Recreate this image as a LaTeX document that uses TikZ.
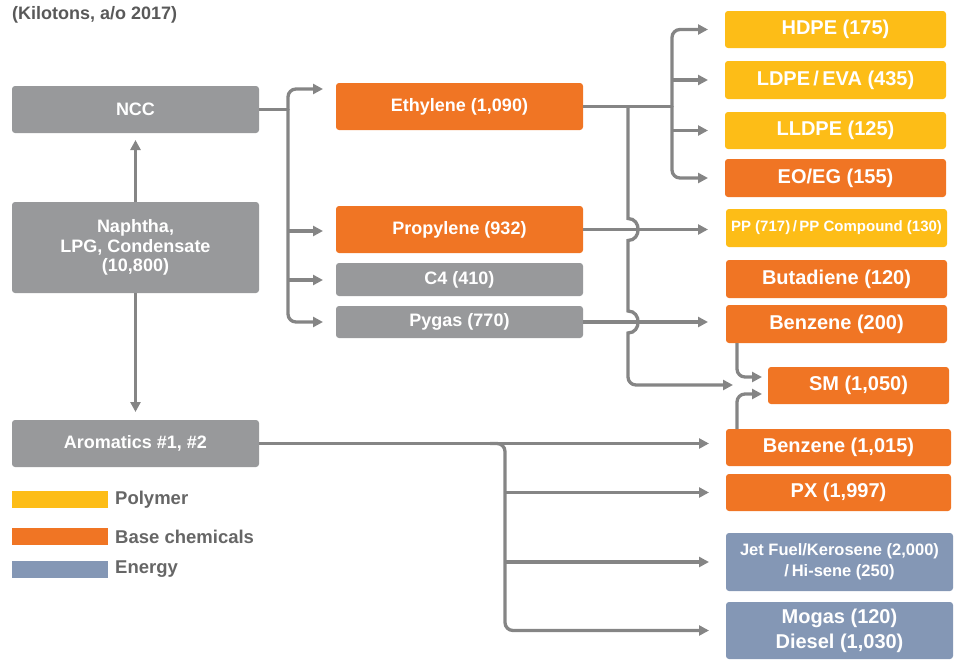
\documentclass[tikz,border=0pt]{standalone}
\usepackage{fontspec}
\setmainfont{Liberation Sans}
\usetikzlibrary{arrows.meta}
\definecolor{boxgray}{HTML}{98999B}
\definecolor{boxorange}{HTML}{F07524}
\definecolor{boxyellow}{HTML}{FDBD17}
\definecolor{boxblue}{HTML}{8497B5}
\definecolor{conngray}{HTML}{858585}
\definecolor{titlegray}{HTML}{595959}
\definecolor{leggray}{HTML}{666666}
\begin{document}
\begin{tikzpicture}[x=1pt,y=-1pt,
  bx/.style={rounded corners=3pt, inner sep=0pt, outer sep=0pt, text=white, align=center,
    font=\bfseries\fontsize{18}{19.5}\selectfont},
  rbx/.style={bx, font=\bfseries\fontsize{20}{25}\selectfont},
  gbox/.style={bx, fill=boxgray},
  obox/.style={bx, fill=boxorange},
  robox/.style={rbx, fill=boxorange},
  rybox/.style={rbx, fill=boxyellow},
  rblbox/.style={rbx, fill=boxblue},
  conn/.style={draw=conngray, line width=3.3pt},
  arr/.style={conn, -{Triangle[length=10pt,width=10pt]}},
  swatch/.style={inner sep=0pt, outer sep=0pt, minimum width=96pt, minimum height=17pt},
  legtext/.style={anchor=west, inner sep=0pt, text=leggray, font=\bfseries\fontsize{18.5}{20}\selectfont}
]
\useasboundingbox (0,0) rectangle (959,667);

% title
\node[anchor=west, inner sep=0pt, text=titlegray, font=\bfseries\fontsize{18}{20}\selectfont] (title) at (12,15) {(Kilotons, a/o 2017)};

% left column
\node[gbox, minimum width=247pt, minimum height=47pt] (ncc) at (135.5,109.5) {NCC};
\node[gbox, minimum width=247pt, minimum height=91pt] (nap) at (135.5,247.5) {Naphtha,\\LPG, Condensate\\(10,800)};
\node[gbox, minimum width=247pt, minimum height=47pt] (aro) at (135.5,443.5) {Aromatics \#1, \#2};

% middle column
\node[obox, minimum width=247pt, minimum height=47pt] (eth) at (459.5,106.5) {Ethylene (1,090)};
\node[obox, minimum width=247pt, minimum height=47pt] (pro) at (459.5,229.5) {Propylene (932)};
\node[gbox, minimum width=247pt, minimum height=33pt] (cfour) at (459.5,279.5) {C4 (410)};
\node[gbox, minimum width=247pt, minimum height=32pt] (pyg) at (459.5,322) {Pygas (770)};

% right column
\node[rybox, minimum width=221pt, minimum height=37pt] (hdpe) at (835.5,29.5) {HDPE (175)};
\node[rybox, minimum width=221pt, minimum height=38pt] (ldpe) at (835.5,80) {LDPE\,/\,EVA (435)};
\node[rybox, minimum width=221pt, minimum height=37pt] (lldpe) at (835.5,130.5) {LLDPE (125)};
\node[robox, minimum width=221pt, minimum height=38pt] (eoeg) at (835.5,178) {EO/EG (155)};
\node[rybox, minimum width=221pt, minimum height=38pt, font=\bfseries\fontsize{15}{17}\selectfont] (pp) at (836.5,228) {PP (717)\,/\,PP Compound (130)};
\node[robox, minimum width=221pt, minimum height=38pt] (but) at (836.5,279) {Butadiene (120)};
\node[robox, minimum width=221pt, minimum height=38pt] (benA) at (836.5,324) {Benzene (200)};
\node[robox, minimum width=181pt, minimum height=37pt] (sm) at (858.5,385.5) {SM (1,050)};
\node[robox, minimum width=225pt, minimum height=37pt] (benB) at (838.5,447.5) {Benzene (1,015)};
\node[robox, minimum width=225pt, minimum height=37pt] (px) at (838.5,492.5) {PX (1,997)};
\node[rblbox, minimum width=227pt, minimum height=58pt, font=\bfseries\fontsize{16.5}{21}\selectfont] (jet) at (839.5,562) {Jet Fuel/Kerosene (2,000)\\/\,Hi-sene (250)};
\node[rblbox, minimum width=227pt, minimum height=57pt] (mog) at (839.5,630.5) {Mogas (120)\\Diesel (1,030)};

% legend
\node[swatch, fill=boxyellow] (swy) at (60,499.5) {};
\node[swatch, fill=boxorange] (swo) at (60,536.5) {};
\node[swatch, fill=boxblue] (swb) at (60,569.5) {};
\node[legtext] (ly) at (115,499.5) {Polymer};
\node[legtext] (lo) at (115,536.5) {Base chemicals};
\node[legtext] (lb) at (115,569.5) {Energy};

% feed connectors
\draw[arr, shorten >=7pt] (nap.north) -- (ncc.south);
\draw[arr, shorten >=8pt] (nap.south) -- (aro.north);

% NCC bus
\draw[conn] (ncc.east) -- (288,109.5);
\draw[arr, rounded corners=8pt, shorten >=13pt] (288,110) |- (eth.west |- 0,89);
\draw[arr, rounded corners=8pt, shorten >=13pt] (288,109) |- (pyg.west);
\draw[arr, shorten >=13pt] (288,231) -- (pro.west |- 0,231);
\draw[arr, shorten >=13pt] (288,280) -- (cfour.west |- 0,280);

% Ethylene bus
\draw[conn] (eth.east) -- (672,106.5);
\draw[arr, rounded corners=8pt, shorten >=17pt] (672,107) |- (hdpe.west);
\draw[arr, rounded corners=8pt, shorten >=17pt] (672,106) |- (eoeg.west);
\draw[arr, shorten >=17pt] (672,80) -- (ldpe.west);
\draw[arr, shorten >=17pt] (672,130.5) -- (lldpe.west);

% Propylene and Pygas
\draw[arr, shorten >=18pt] (pro.east) -- (pp.west |- pro.east);
\draw[arr, shorten >=18pt] (pyg.east) -- (benA.west |- pyg.east);

% Ethylene -> SM with hops
\draw[arr, shorten >=35pt] (628,106.5) -- (628,218.5)
  .. controls (641.5,218.5) and (641.5,240.5) .. (628,240.5)
  -- (628,311)
  .. controls (641.5,311) and (641.5,333) .. (628,333)
  [rounded corners=8pt] -- (628,385) -- (sm.west |- 0,385);

% Benzene -> SM
\draw[arr, rounded corners=8pt, shorten >=6pt] (benA.south -| 737,0) |- (sm.west |- 0,377);
\draw[arr, rounded corners=8pt, shorten >=6pt] (benB.north -| 737,0) |- (sm.west |- 0,394);

% Aromatics bus
\draw[arr, shorten >=17pt] (aro.east) -- (benB.west |- aro.east);
\draw[arr, rounded corners=8pt, shorten >=17pt] (490,443.5) -- (505,443.5) -- (505,630.5) -- (mog.west);
\draw[arr, shorten >=17pt] (505,492.5) -- (px.west);
\draw[arr, shorten >=17pt] (505,562) -- (jet.west);
\end{tikzpicture}
\end{document}
